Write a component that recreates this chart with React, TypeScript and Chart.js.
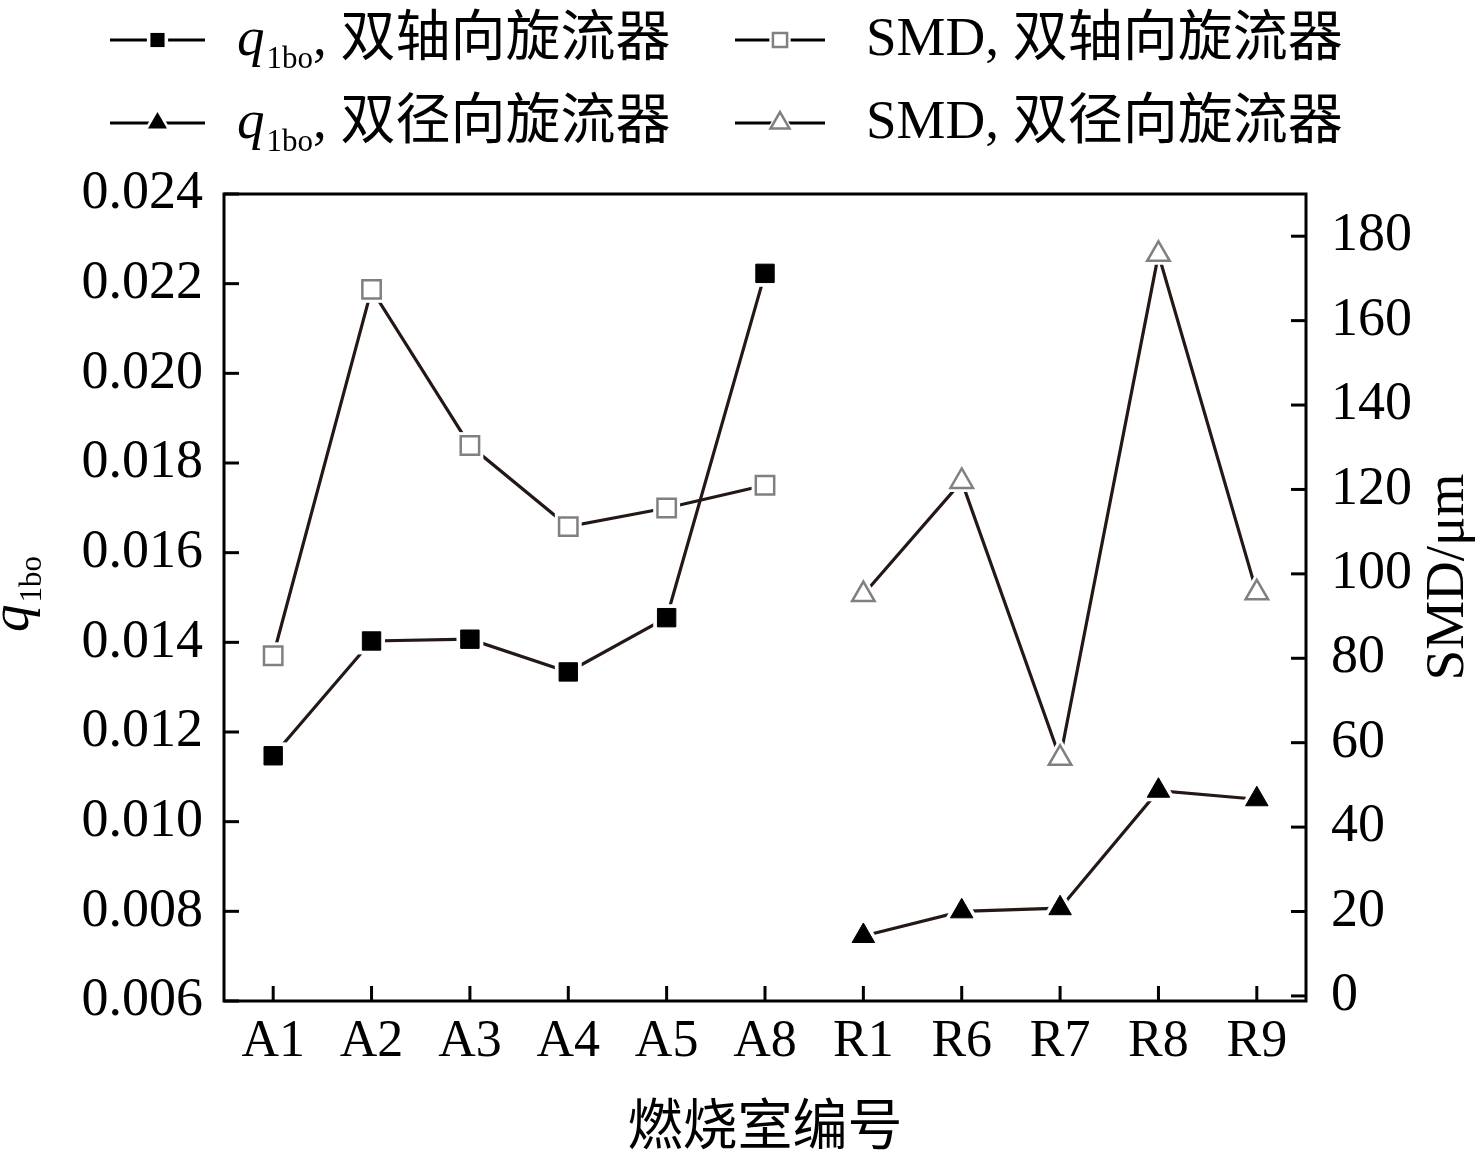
import React, { useEffect, useRef } from 'react';
import { Chart, registerables } from 'chart.js';

Chart.register(...registerables);

const W = 1476;
const H = 1160;

const categories = ['A1', 'A2', 'A3', 'A4', 'A5', 'A8', 'R1', 'R6', 'R7', 'R8', 'R9'];
const qAxial = [0.01147, 0.01403, 0.01407, 0.01334, 0.01455, 0.02223, null, null, null, null, null];
const smdAxial = [80.6, 167.4, 130.4, 111.2, 115.6, 121.0, null, null, null, null, null];
const qRadial = [null, null, null, null, null, null, 0.00745, 0.008, 0.00807, 0.01069, 0.0105];
const smdRadial = [null, null, null, null, null, null, 95.1, 121.9, 56.3, 175.7, 95.5];

const leftTicks = [0.006, 0.008, 0.01, 0.012, 0.014, 0.016, 0.018, 0.02, 0.022, 0.024];
const rightTicks = [0, 20, 40, 60, 80, 100, 120, 140, 160, 180];

const seriesTextAxial = ', 双轴向旋流器';
const seriesTextRadial = ', 双径向旋流器';
const smdTextAxial = 'SMD, 双轴向旋流器';
const smdTextRadial = 'SMD, 双径向旋流器';
const xTitle = '燃烧室编号';
const rightTitle = 'SMD/μm';

const SERIF = '"Liberation Serif", "Times New Roman", serif';
const CJK = '"Noto Sans CJK SC", "Noto Sans CJK JP", sans-serif';
const MIXED = '"Liberation Serif", "Noto Sans CJK SC", serif';
const LINE = '#231815';
const OPEN = '#808080';
const R = 13;

function shapePath(ctx: CanvasRenderingContext2D, style: string, x: number, y: number, r: number) {
  ctx.beginPath();
  if (style === 'rect') {
    const s = r * Math.SQRT1_2;
    ctx.rect(x - s, y - s, 2 * s, 2 * s);
  } else {
    const a = (2 * Math.PI) / 3;
    ctx.moveTo(x, y - r);
    ctx.lineTo(x + r * Math.sin(a), y - r * Math.cos(a));
    ctx.lineTo(x - r * Math.sin(a), y - r * Math.cos(a));
    ctx.closePath();
  }
}

const haloPlugin = {
  id: 'haloPoints',
  afterDatasetsDraw(chart: any) {
    const ctx: CanvasRenderingContext2D = chart.ctx;
    chart.data.datasets.forEach((ds: any, i: number) => {
      const meta = chart.getDatasetMeta(i);
      meta.data.forEach((pt: any, j: number) => {
        if (ds.data[j] == null) return;
        const p = pt.getProps(['x', 'y'], true);
        ctx.save();
        ctx.fillStyle = '#ffffff';
        shapePath(ctx, ds.pointStyle, p.x, p.y, ds.pointStyle === 'rect' ? R + 6 : R + 8);
        ctx.fill();
        ctx.restore();
        pt.draw(ctx, chart.chartArea);
      });
    });
  },
};

function drawLegendSymbol(ctx: CanvasRenderingContext2D, x0: number, x1: number, y: number, style: string, filled: boolean) {
  const cx = (x0 + x1) / 2;
  const r = style === 'rect' ? 10 : 11;
  ctx.save();
  ctx.strokeStyle = '#000';
  ctx.lineWidth = 3;
  ctx.beginPath();
  ctx.moveTo(x0, y);
  ctx.lineTo(x1, y);
  ctx.stroke();
  ctx.fillStyle = '#fff';
  shapePath(ctx, style, cx, y, r + 5);
  ctx.fill();
  shapePath(ctx, style, cx, y, r);
  if (filled) {
    ctx.fillStyle = '#000';
    ctx.fill();
  } else {
    ctx.fillStyle = '#fff';
    ctx.fill();
    ctx.strokeStyle = OPEN;
    ctx.lineWidth = 2.5;
    ctx.stroke();
  }
  ctx.restore();
}

function drawQText(ctx: CanvasRenderingContext2D, x: number, baseline: number, rest: string) {
  ctx.font = `italic 55px ${SERIF}`;
  ctx.fillText('q', x, baseline);
  x += ctx.measureText('q').width + 2;
  ctx.font = `31px ${SERIF}`;
  ctx.fillText('1bo', x, baseline + 13);
  x += ctx.measureText('1bo').width;
  ctx.font = `55px ${MIXED}`;
  ctx.fillText(rest, x, baseline);
}

const overlayPlugin = {
  id: 'overlay',
  afterDraw(chart: any) {
    const ctx: CanvasRenderingContext2D = chart.ctx;
    const { left, right, top, bottom } = chart.chartArea;
    ctx.save();
    ctx.strokeStyle = '#000';
    ctx.lineWidth = 3;
    ctx.strokeRect(left, top, right - left, bottom - top);
    const tl = 15;
    const xs = chart.scales.x;
    xs.ticks.forEach((_t: any, i: number) => {
      const px = xs.getPixelForTick(i);
      ctx.beginPath();
      ctx.moveTo(px, bottom);
      ctx.lineTo(px, bottom - tl);
      ctx.stroke();
    });
    const ys = chart.scales.y;
    ys.ticks.forEach((_t: any, i: number) => {
      const py = ys.getPixelForTick(i);
      ctx.beginPath();
      ctx.moveTo(left, py);
      ctx.lineTo(left + tl, py);
      ctx.stroke();
    });
    const y1 = chart.scales.y1;
    y1.ticks.forEach((_t: any, i: number) => {
      const py = y1.getPixelForTick(i);
      ctx.beginPath();
      ctx.moveTo(right, py);
      ctx.lineTo(right - tl, py);
      ctx.stroke();
    });

    ctx.fillStyle = '#000';
    // x title
    ctx.font = `55px ${CJK}`;
    ctx.textAlign = 'center';
    ctx.textBaseline = 'middle';
    ctx.fillText(xTitle, (left + right) / 2, 1123);

    // right title
    ctx.save();
    ctx.translate(1463, 577);
    ctx.rotate(-Math.PI / 2);
    ctx.textAlign = 'center';
    ctx.textBaseline = 'alphabetic';
    ctx.font = `55px ${SERIF}`;
    ctx.fillText(rightTitle, 0, 0);
    ctx.restore();

    // left title q_1bo
    ctx.save();
    ctx.translate(28, 594);
    ctx.rotate(-Math.PI / 2);
    ctx.textAlign = 'left';
    ctx.textBaseline = 'alphabetic';
    ctx.font = `italic 55px ${SERIF}`;
    const wq = ctx.measureText('q').width + 2;
    ctx.font = `31px ${SERIF}`;
    const ws = ctx.measureText('1bo').width;
    const x0 = -(wq + ws) / 2;
    ctx.font = `italic 55px ${SERIF}`;
    ctx.fillText('q', x0, 0);
    ctx.font = `31px ${SERIF}`;
    ctx.fillText('1bo', x0 + wq, 13);
    ctx.restore();

    // legend
    ctx.textAlign = 'left';
    ctx.textBaseline = 'alphabetic';
    const b1 = 55;
    const b2 = 138;
    drawLegendSymbol(ctx, 110, 205, b1 - 15, 'rect', true);
    drawQText(ctx, 237, b1, seriesTextAxial);
    drawLegendSymbol(ctx, 110, 205, b2 - 15, 'triangle', true);
    drawQText(ctx, 237, b2, seriesTextRadial);
    drawLegendSymbol(ctx, 735, 825, b1 - 15, 'rect', false);
    ctx.font = `55px ${MIXED}`;
    ctx.fillText(smdTextAxial, 866, b1);
    drawLegendSymbol(ctx, 735, 825, b2 - 15, 'triangle', false);
    ctx.font = `55px ${MIXED}`;
    ctx.fillText(smdTextRadial, 866, b2);
    ctx.restore();
  },
};

export default function App() {
  const ref = useRef<HTMLCanvasElement | null>(null);
  useEffect(() => {
    if (!ref.current) return;
    const xFont = { family: SERIF, size: 52 };
    const yFont = { family: SERIF, size: 54 };
    const mk = (label: string, data: any[], axis: string, style: string, filled: boolean) => ({
      label,
      data,
      yAxisID: axis,
      borderColor: LINE,
      borderWidth: 3.2,
      pointStyle: style,
      pointRadius: R,
      pointBackgroundColor: filled ? '#000' : '#fff',
      pointBorderColor: filled ? '#000' : OPEN,
      pointBorderWidth: filled ? 1 : 2.5,
      spanGaps: false,
    });
    const chart = new Chart(ref.current, {
      type: 'line',
      data: {
        labels: categories,
        datasets: [
          mk('q1bo, 双轴向旋流器', qAxial, 'y', 'rect', true),
          mk('SMD, 双轴向旋流器', smdAxial, 'y1', 'rect', false),
          mk('q1bo, 双径向旋流器', qRadial, 'y', 'triangle', true),
          mk('SMD, 双径向旋流器', smdRadial, 'y1', 'triangle', false),
        ] as any,
      },
      options: {
        responsive: false,
        animation: false,
        devicePixelRatio: 1,
        events: [],
        layout: { padding: { top: 194, left: 0, right: 0, bottom: 0 } },
        plugins: { legend: { display: false }, tooltip: { enabled: false } },
        scales: {
          x: {
            type: 'category',
            offset: true,
            grid: { display: false, drawTicks: false },
            border: { display: false },
            ticks: { font: xFont, color: '#000', padding: 10, maxRotation: 0, autoSkip: false },
            afterFit: (s: any) => {
              s.height = H - 1001;
            },
          },
          y: {
            type: 'linear',
            position: 'left',
            min: 0.006,
            max: 0.024,
            grid: { display: false, drawTicks: false },
            border: { display: false },
            afterBuildTicks: (s: any) => {
              s.ticks = leftTicks.map((v) => ({ value: v }));
            },
            ticks: {
              font: yFont,
              color: '#000',
              padding: 21,
              callback: (v: any) => Number(v).toFixed(3),
            },
            afterFit: (s: any) => {
              s.width = 224;
            },
          },
          y1: {
            type: 'linear',
            position: 'right',
            min: -1.2,
            max: 190,
            grid: { display: false, drawTicks: false },
            border: { display: false },
            afterBuildTicks: (s: any) => {
              s.ticks = rightTicks.map((v) => ({ value: v }));
            },
            ticks: {
              font: yFont,
              color: '#000',
              padding: 25,
              callback: (v: any) => String(v),
            },
            afterFit: (s: any) => {
              s.width = W - 1306;
            },
          },
        },
      } as any,
      plugins: [haloPlugin, overlayPlugin],
    });
    return () => chart.destroy();
  }, []);
  return (
    <div style={{ position: 'absolute', left: 0, top: 0, width: W, height: H, background: '#fff' }}>
      <canvas ref={ref} width={W} height={H} style={{ width: W, height: H, display: 'block' }} />
    </div>
  );
}
